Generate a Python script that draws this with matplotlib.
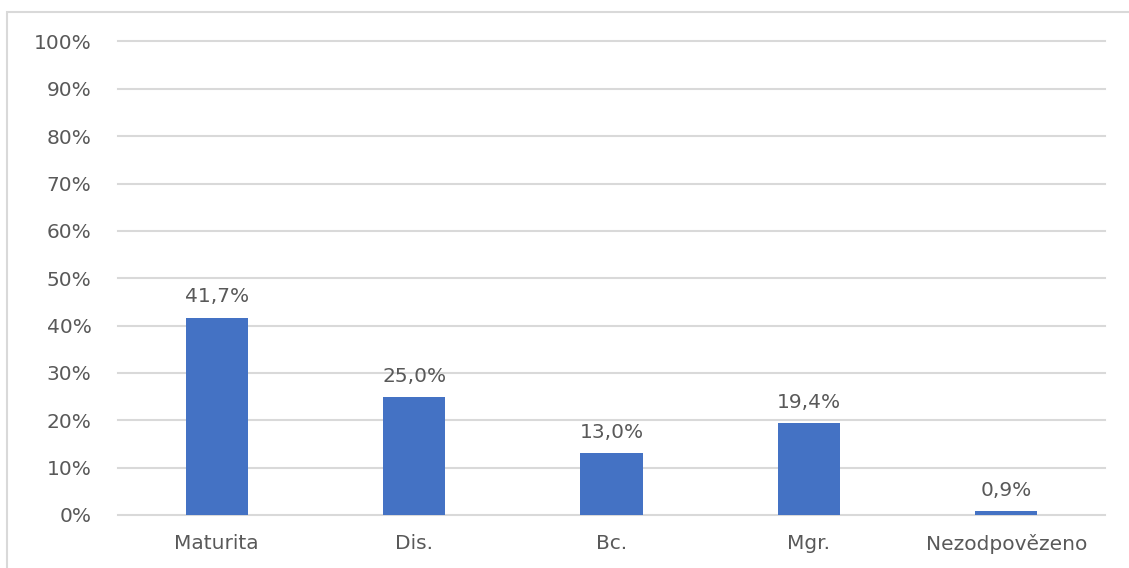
import numpy as np
import matplotlib.pyplot as plt
from matplotlib.patches import Rectangle

categories = ["Maturita", "Dis.", "Bc.", "Mgr.", "Nezodpovězeno"]
values = [41.7, 25.0, 13.0, 19.4, 0.9]
yticks = [0, 10, 20, 30, 40, 50, 60, 70, 80, 90, 100]

text_color = "#595959"
bar_color = "#4472C4"
grid_color = "#d9d9d9"

plt.rcParams['font.family'] = ['DejaVu Sans']

fig = plt.figure(figsize=(11.29, 5.68), dpi=100)
ax = fig.add_axes([118/1129, 53/568, 987/1129, 473.5/568])

# outer chart frame
fig.patches.append(Rectangle((7/1129, -0.05), 1.2, (568-12)/568 + 0.05,
                             transform=fig.transFigure, fill=False,
                             edgecolor="#d9d9d9", linewidth=1.5))

x = np.arange(len(categories))
ax.bar(x, values, width=0.315, color=bar_color, zorder=3)

for xi, v in zip(x, values):
    ax.annotate(("%.1f%%" % v).replace(".", ","), (xi, v),
                xytext=(0, 8), textcoords="offset points",
                ha="center", va="bottom", fontsize=14.5, color=text_color)

ax.set_xlim(-0.5, len(categories) - 0.5)
ax.set_ylim(0, 100)
ax.set_yticks(yticks)
ax.set_yticklabels(["%d%%" % t for t in yticks])
ax.set_xticks(x)
ax.set_xticklabels(categories)
ax.tick_params(axis="y", length=0, pad=19, labelsize=14.5, labelcolor=text_color)
ax.tick_params(axis="x", length=0, pad=13.5, labelsize=14.5, labelcolor=text_color)
ax.yaxis.grid(True, color=grid_color, linewidth=1.5, zorder=0)
for gl in ax.get_ygridlines():
    gl.set_clip_on(False)
for s in ax.spines.values():
    s.set_visible(False)

plt.savefig("out.png", dpi=100)
